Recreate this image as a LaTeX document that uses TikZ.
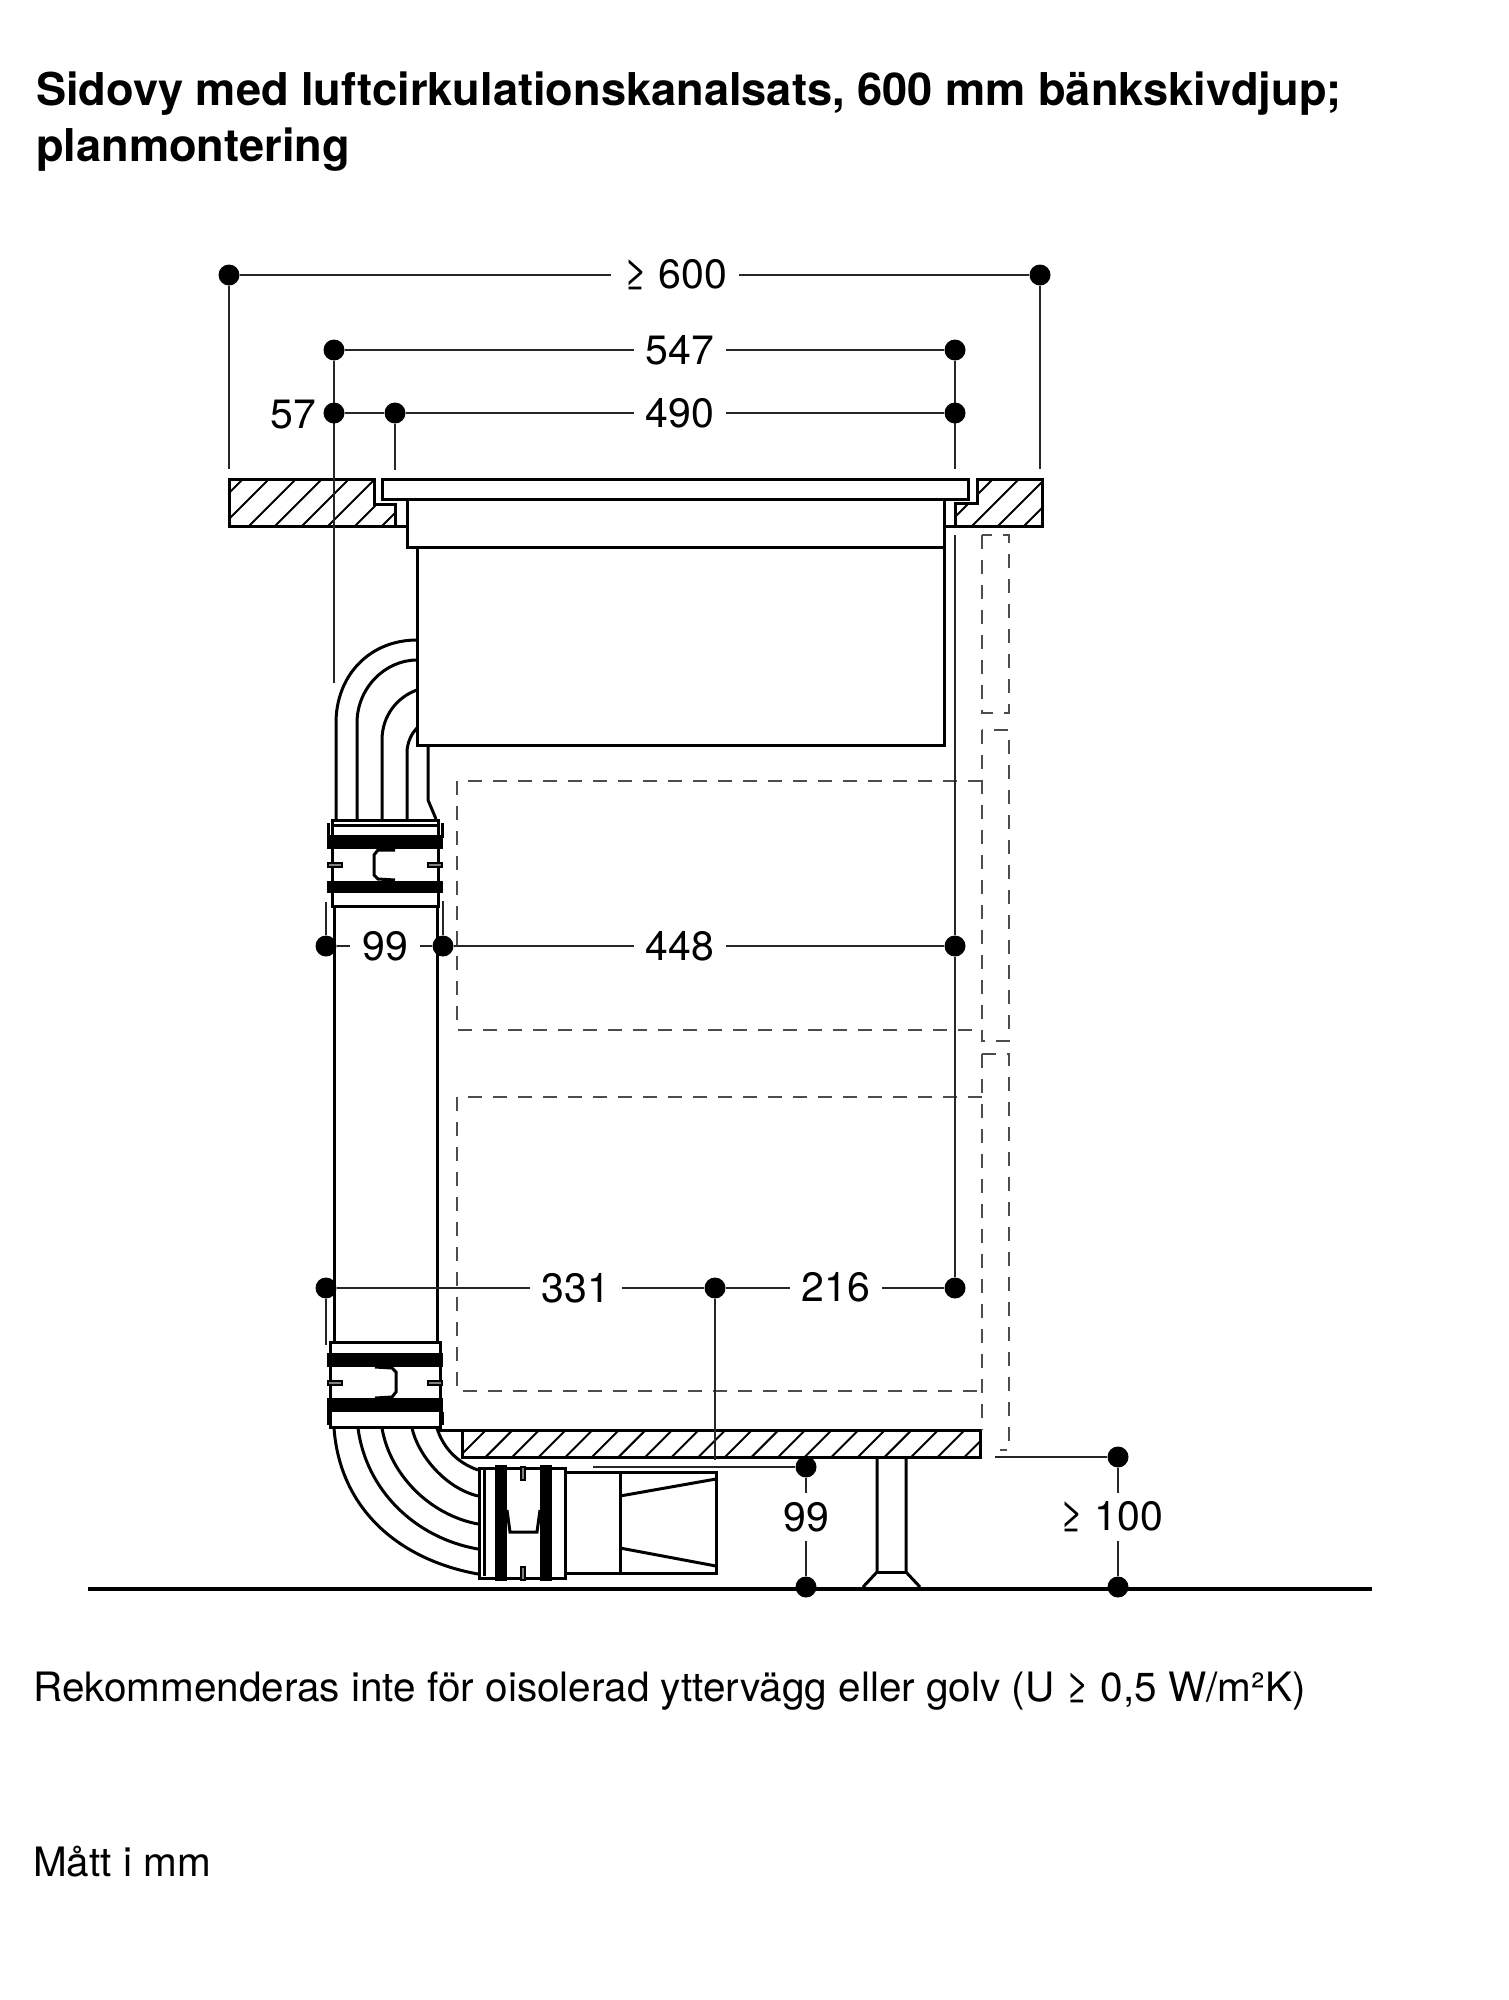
\documentclass[tikz,border=0pt]{standalone}
\usepackage{fontspec}
\setmainfont{TeX Gyre Heros}
\usetikzlibrary{shapes}
\begin{document}
\begin{tikzpicture}[x=1pt,y=-1pt,
every edge/.style = {draw=black!85,line width=1.5pt},
 dimdot/.style = {circle, fill=black, inner sep=0pt, minimum size=21pt},
 dimtext/.style = {inner xsep=12pt, inner ysep=9pt, font=\fontsize{41}{41}\selectfont},
 wall/.style = {draw=black, line width=3pt},
 hatchline/.style = {draw=black, line width=2pt},
 dashbox/.style = {draw=black!70, line width=2pt, dash pattern=on 14pt off 11pt},
 band/.style = {fill=black},
 tabpart/.style = {draw=black, line width=2pt, fill=black!50},
 heading/.style = {anchor=base west, inner sep=0pt, font=\bfseries\fontsize{45.2}{45.2}\selectfont},
 bodytext/.style = {anchor=base west, inner sep=0pt, font=\fontsize{40.5}{40.5}\selectfont}
                    ]
\useasboundingbox (0,0) rectangle (1508,2000);
% texts
\node(title1) [heading] at (36,105) {Sidovy med luftcirkulationskanalsats, 600 mm bänkskivdjup;};
\node(title2) [heading] at (36,161) {planmontering};
\node(note) [bodytext] at (33,1701) {Rekommenderas inte för oisolerad yttervägg eller golv (U ≥ 0,5 W/m²K)};
\node(unit) [bodytext] at (33,1876) {Mått i mm};
%
% worktop
\draw[wall] (229,479) -- (374,479) -- (374,504) -- (395,504) -- (395,526) -- (229,526) -- cycle;
\draw[wall] (395,526) -- (407,526);
\begin{scope}
\clip (229,479) -- (374,479) -- (374,504) -- (395,504) -- (395,526) -- (229,526) -- cycle;
\foreach \x in {196,222,249,275,302,328,355,382}
  \draw[hatchline] (\x,526) -- ++(47,-47);
\end{scope}
\draw[wall] (977,479) -- (1042,479) -- (1042,526) -- (955,526) -- (955,503) -- (977,503) -- cycle;
\draw[wall] (944,526) -- (955,526);
\begin{scope}
\clip (977,479) -- (1042,479) -- (1042,526) -- (955,526) -- (955,503) -- (977,503) -- cycle;
\foreach \x in {946,972,998,1024}
  \draw[hatchline] (\x,526) -- ++(47,-47);
\end{scope}
%
% appliance
\draw[wall] (382,479) rectangle (968,499);
\draw[wall] (407,499) rectangle (944,547);
\draw[wall] (417,547) rectangle (944,745);
%
% upper duct
\draw[wall] (336,819) -- (336,723) .. controls (336,675) and (370,640) .. (417,640);
\draw[wall] (357,819) -- (357,723) .. controls (357,688) and (385,660) .. (417,660);
\draw[wall] (382,819) -- (382,740) .. controls (382,716) and (397,697) .. (417,690);
\draw[wall] (407,819) -- (407,753) .. controls (407,742) and (412,733) .. (417,728);
\draw[wall] (428,745) -- (428,800) -- (436,819);
%
% upper coupling
\draw[wall] (332,906) -- (332,820) -- (438,820) -- (438,906) -- cycle;
\draw[wall] (332,825) -- (438,825);
\draw[wall] (328,823) -- (328,838) (442,823) -- (442,838);
\fill[band] (327,835) rectangle (443,849);
\fill[band] (327,881) rectangle (443,893);
\draw[wall] (395,850) -- (378,850) -- (374,855) -- (374,875) -- (378,879) -- (395,880);
\draw[tabpart] (328,863) rectangle (342,867);
\draw[tabpart] (428,863) rectangle (442,867);
%
% vertical duct
\draw[wall] (334,906) -- (334,1342);
\draw[wall] (437,906) -- (437,1342);
%
% lower coupling
\draw[wall] (330,1342) -- (440,1342) -- (440,1427) -- (330,1427) -- cycle;
\draw[wall] (328,1412) -- (328,1425) (442,1412) -- (442,1425);
\fill[band] (327,1353) rectangle (443,1367);
\fill[band] (327,1398) rectangle (443,1412);
\draw[wall] (375,1367) -- (392,1368) -- (396,1372) -- (396,1392) -- (392,1397) -- (375,1398);
\draw[tabpart] (328,1381) rectangle (342,1385);
\draw[tabpart] (428,1381) rectangle (442,1385);
%
% elbow
\draw[wall] (334,1428) .. controls (340,1510) and (400,1560) .. (478,1574);
\draw[wall] (358,1428) .. controls (366,1490) and (415,1538) .. (478,1549);
\draw[wall] (382,1428) .. controls (390,1475) and (430,1515) .. (478,1524);
\draw[wall] (412,1428) .. controls (418,1455) and (445,1488) .. (478,1496);
\draw[wall] (437,1428) .. controls (442,1445) and (455,1462) .. (478,1470);
%
% horizontal coupling and outlet
\draw[wall] (479,1468) rectangle (565,1578);
\draw[wall] (484,1470) -- (484,1576);
\fill[band] (495,1465) rectangle (507,1581);
\fill[band] (540,1465) rectangle (552,1581);
\draw[wall] (507,1510) -- (510,1532) -- (537,1532) -- (540,1510);
\draw[tabpart] (521,1467) rectangle (525,1480);
\draw[tabpart] (521,1567) rectangle (525,1580);
\draw[wall] (565,1472) rectangle (716,1573);
\draw[wall] (620,1472) -- (620,1573);
\draw[wall] (620,1496) -- (716,1479);
\draw[wall] (620,1548) -- (716,1566);
%
% shelf and leg
\draw[wall] (438,1430) -- (980,1430) -- (980,1457) -- (462,1457) -- (462,1430);
\begin{scope}
\clip (462,1430) rectangle (980,1457);
\foreach \x in {459,485.6,...,980}
  \draw[hatchline] (\x,1457) -- ++(27,-27);
\end{scope}
\draw[wall] (877,1457) -- (877,1572) -- (863,1587);
\draw[wall] (906,1457) -- (906,1572) -- (920,1587);
\draw[wall] (877,1572) -- (906,1572);
\draw[black,line width=4pt] (88,1589) -- (1372,1589);
%
% hidden outlines
\draw[dashbox] (982,535) rectangle (1009,713);
\draw[dashbox] (982,730) rectangle (1009,1041);
\draw[dashbox] (982,1054) -- (1009,1054) -- (1009,1450) -- (1000,1450);
\draw[dashbox] (982,1054) -- (982,1430);
\draw[dashbox] (982,781) -- (457,781) -- (457,1030) -- (982,1030);
\draw[dashbox] (982,1097) -- (457,1097) -- (457,1391) -- (982,1391);
%
% dimensions
\node(d600l) [dimdot] at (229,275) {};
\node(d600r) [dimdot] at (1040,275) {};
\node(t600) [dimtext] at (675,275) {≥ 600};
\coordinate (e600l) at (229,469);
\coordinate (e600r) at (1040,469);
\path   (d600l) edge (t600);
\path   (t600) edge (d600r);
\path   (d600l) edge (e600l);
\path   (d600r) edge (e600r);
%
\node(d547l) [dimdot] at (334,350) {};
\node(d547r) [dimdot] at (955,350) {};
\node(t547) [dimtext] at (680,350) {547};
\coordinate (e547l) at (334,683);
\coordinate (e547r) at (955,469);
\path   (d547l) edge (t547);
\path   (t547) edge (d547r);
\path   (d547l) edge (e547l);
\path   (d547r) edge (e547r);
%
\node(d57l) [dimdot] at (334,413) {};
\node(d490l) [dimdot] at (395,413) {};
\node(d490r) [dimdot] at (955,413) {};
\node(t57) [dimtext,inner xsep=0pt] at (293,415) {57};
\node(t490) [dimtext] at (680,413) {490};
\coordinate (e490l) at (395,470);
\path   (d57l) edge (d490l);
\path   (d490l) edge (t490);
\path   (t490) edge (d490r);
\path   (d490l) edge (e490l);
%
\node(d99l) [dimdot] at (326,946) {};
\node(d99r) [dimdot] at (443,946) {};
\node(d448r) [dimdot] at (955,946) {};
\node(t99) [dimtext] at (385,946) {99};
\node(t448) [dimtext] at (680,946) {448};
\coordinate (e99l) at (326,902);
\coordinate (e99r) at (443,901);
\coordinate (e448) at (955,535);
\path   (d99l) edge (t99);
\path   (t99) edge (d99r);
\path   (d99r) edge (t448);
\path   (t448) edge (d448r);
\path   (d99l) edge (e99l);
\path   (d99r) edge (e99r);
\path   (d448r) edge (e448);
%
\node(d331l) [dimdot] at (326,1288) {};
\node(d331r) [dimdot] at (715,1288) {};
\node(d216r) [dimdot] at (955,1288) {};
\node(t331) [dimtext] at (576,1288) {331};
\node(t216) [dimtext] at (836,1288) {\raisebox{3pt}{216}};
\coordinate (e331l) at (326,1345);
\coordinate (e331r) at (715,1460);
\path   (d331l) edge (t331);
\path   (t331) edge (d331r);
\path   (d331r) edge (t216);
\path   (t216) edge (d216r);
\path   (d331l) edge (e331l);
\path   (d331r) edge (e331r);
\path   (d448r) edge (d216r);
%
\node(d99t) [dimdot] at (806,1467) {};
\node(d99b) [dimdot] at (806,1587) {};
\node(t99v) [dimtext] at (806,1517) {99};
\coordinate (e99t) at (593,1467);
\path   (d99t) edge (t99v);
\path   (t99v) edge (d99b);
\path   (d99t) edge (e99t);
%
\node(d100t) [dimdot] at (1118,1457) {};
\node(d100b) [dimdot] at (1118,1587) {};
\node(t100) [dimtext] at (1111,1517) {≥ 100};
\coordinate (e100t) at (995,1457);
\path   (d100t) edge (d100t |- t100.north);
\path   (d100b) edge (d100b |- t100.south);
\path   (d100t) edge (e100t);
\end{tikzpicture}
\end{document}
